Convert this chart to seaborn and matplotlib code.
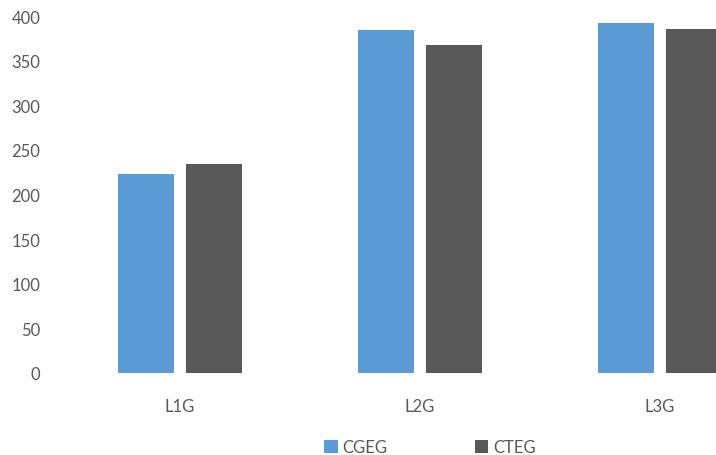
import pandas as pd
import matplotlib.pyplot as plt
import seaborn as sns

categories = ["L1G", "L2G", "L3G"]
series = ["CGEG", "CTEG"]
cgeg_values = [223, 384, 392]
cteg_values = [234, 367, 385]
colors = ["#5B9BD5", "#595959"]
text_color = "#595959"


def main():
    data = pd.DataFrame({
        "category": categories * 2,
        "series": [series[0]] * 3 + [series[1]] * 3,
        "value": cgeg_values + cteg_values,
    })

    sns.set_style("white")
    plt.rcParams["font.family"] = ["Lato", "DejaVu Sans"]

    fig = plt.figure(figsize=(7.16, 4.56), dpi=100)
    ax = fig.add_axes([60 / 716, 82 / 456, 656 / 716, 357 / 456])
    sns.barplot(data=data, x="category", y="value", hue="series",
                palette=colors, width=0.567, gap=0.19, saturation=1,
                linewidth=0, ax=ax)

    ax.set_xlim(-0.5, (716 - 180) / 240)
    ax.set_ylim(0, 400)
    ax.set_yticks(range(0, 401, 50))
    ax.set_xlabel("")
    ax.set_ylabel("")
    for s in ax.spines.values():
        s.set_visible(False)
    ax.tick_params(axis="both", length=0, labelsize=12, colors=text_color)
    ax.tick_params(axis="y", pad=14)
    ax.tick_params(axis="x", pad=18)

    handles, labels = ax.get_legend_handles_labels()
    ax.get_legend().remove()
    fig.legend(handles, labels, loc="center", bbox_to_anchor=(430 / 716, 1 - 448 / 456),
               ncol=2, frameon=False, fontsize=12, labelcolor=text_color,
               handlelength=0.8, handleheight=0.8, handletextpad=0.3,
               columnspacing=5.2)

    fig.savefig("out.png", dpi=100)


if __name__ == "__main__":
    main()
